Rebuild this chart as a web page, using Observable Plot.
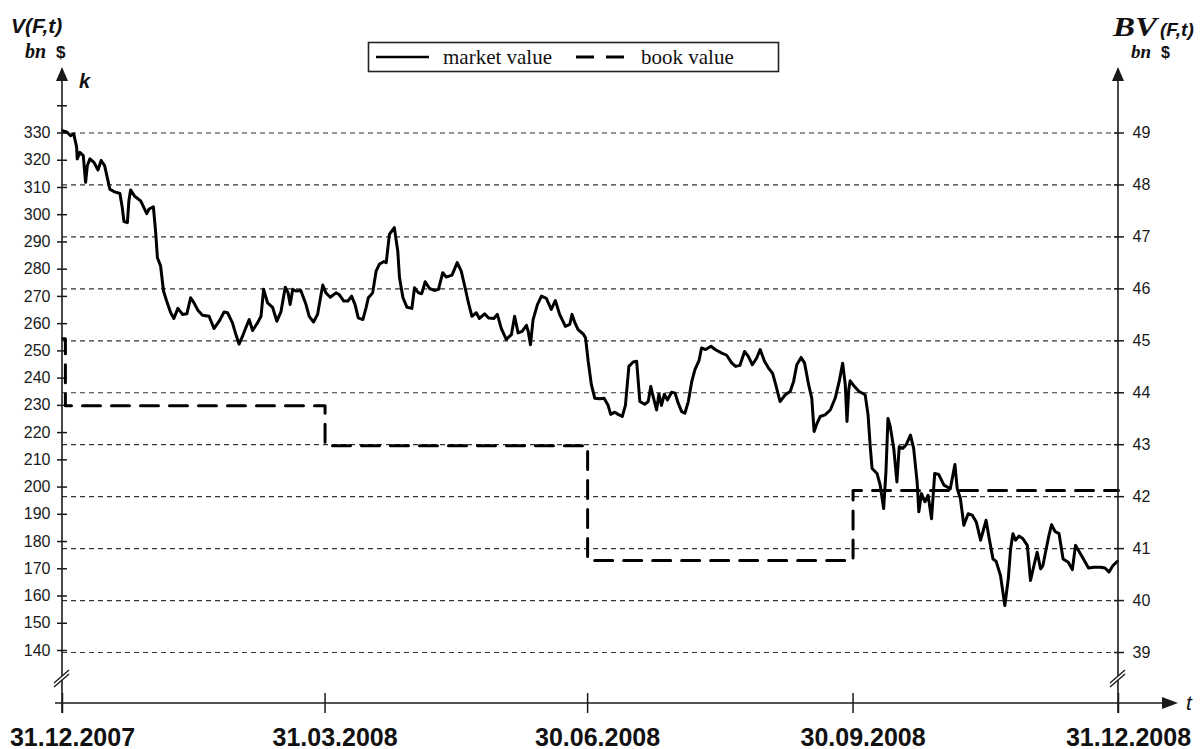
<!DOCTYPE html>
<html>
<head>
<meta charset="utf-8">
<script src="https://cdn.jsdelivr.net/npm/d3@7"></script>
<script src="https://cdn.jsdelivr.net/npm/@observablehq/plot@0.6"></script>
<style>
  html, body { margin: 0; padding: 0; background: #fff; }
  #chart svg { display: block; }
</style>
</head>
<body>
<div id="chart"></div>
<script>
// ---------- DATA ----------
// t = days since 31.12.2007
const marketDay = [0,1.6,2.8,3.9,4.9,5.1,6.0,7.2,8.0,8.6,9.5,10.9,12.3,13.4,14.6,15.5,16.4,17.8,19.9,20.7,21.3,22.5,23.0,23.6,25.0,27.1,29.2,30.0,31.5,32.3,32.9,34.0,35.0,36.1,37.5,38.6,40.0,41.6,43.1,44.4,45.6,47.0,48.5,50.8,52.5,54.3,56.0,57.2,58.9,60.1,61.2,62.4,63.5,64.7,65.9,67.6,68.8,69.7,71.1,72.8,74.3,75.7,77.2,78.2,78.9,79.8,80.9,82.6,84.4,85.5,87.0,88.4,90.2,91.3,92.8,94.8,95.9,97.5,98.9,100.2,101.4,102.5,104.1,105.2,106.0,107.5,108.7,109.8,111.4,
  112.2,113.3,115.0,116.2,116.8,118.0,119.4,121.1,122.0,123.4,124.5,125.7,127.2,128.9,130.3,131.8,133.0,135.0,136.8,138.2,139.6,140.7,141.9,143.4,144.5,146.3,147.7,149.5,150.7,152.1,153.8,155.6,156.7,157.9,159.3,160.8,161.4,162.2,163.1,164.6,166.0,167.7,169.4,170.8,172.3,174.3,175.8,176.6,177.5,178.7,180.5,181.3,182.2,183.3,184.5,186.2,187.7,189.1,190.0,191.4,192.6,194.0,195.1,196.3,197.8,199.0,200.1,201.8,203.0,203.9,204.7,205.9,206.7,207.6,208.6,209.7,211.1,212.3,213.4,214.6,215.7,216.9,218.1,219.2,220.6,221.5,222.9,224.8,226.2,228.5,230.2,232.0,233.3,234.8,236.4,237.7,239.1,240.6,241.8,243.3,244.7,246.1,247.2,248.7,
  250.5,252.2,253.4,254.5,256.0,257.2,258.6,259.7,260.5,261.5,262.6,264.3,266.1,267.8,269.2,270.4,271.3,271.9,272.5,273.0,274.5,276.1,278.2,279.2,280.0,280.6,282.3,283.4,284.6,285.4,286.1,286.9,288.1,289.2,290.0,291.2,292.4,293.9,295.0,296.2,296.8,297.7,298.9,300.0,301.2,302.3,303.7,305.5,307.7,309.3,310.1,311.2,312.4,313.9,315.3,316.7,318.2,319.3,320.1,321.3,322.5,323.6,325.1,326.6,327.8,328.6,329.4,330.3,331.5,332.9,334.4,335.5,336.7,337.8,339.0,339.8,340.7,341.9,342.8,344.0,345.4,346.8,348.6,350.0,351.1,352.5,354.1,355.6,357.5,359.8,361.3,362.7,364.1,365.6];

const marketValue = [330.9,330.3,329.0,329.7,324.8,320.5,322.9,321.7,311.9,318.0,320.5,319.2,316.4,319.9,318.0,313.7,309.4,308.5,307.8,302.7,297.5,297.1,305.1,309.1,306.8,305.1,300.4,302.1,302.9,293.4,284.2,281.2,272.0,268.3,264.0,261.9,265.6,263.4,263.6,269.5,267.6,264.8,263.1,262.7,258.2,260.9,264.3,264.0,260.3,256.0,252.5,255.4,258.4,261.5,257.5,260.3,262.7,272.6,267.6,266.0,260.9,264.3,273.4,271.3,267.0,272.6,272.0,272.2,267.0,262.7,260.6,263.4,274.2,271.3,269.7,271.3,270.7,268.3,268.3,270.1,267.0,262.1,261.5,265.8,269.5,271.3,279.3,281.8,282.8,
  282.4,292.8,295.3,286.7,276.9,269.5,266.0,265.6,273.2,271.3,271.0,275.4,272.9,272.2,272.6,278.7,277.1,277.8,282.4,279.3,272.9,267.6,262.7,264.0,261.9,263.6,262.1,261.9,263.4,258.2,254.2,256.0,262.7,256.6,257.2,259.4,257.2,252.3,261.5,267.0,270.1,269.3,265.2,268.5,263.4,259.0,259.7,263.4,260.6,257.8,256.2,254.7,246.2,237.6,232.6,232.4,232.6,230.0,226.7,227.5,226.7,225.9,230.0,244.3,245.9,246.2,231.4,230.4,231.4,236.9,233.3,228.3,234.1,230.0,234.1,232.0,234.8,234.5,230.8,227.7,227.1,231.4,238.8,243.1,246.4,251.1,250.5,251.7,250.5,249.2,248.4,245.5,244.3,244.7,249.8,248.0,244.9,247.4,250.5,246.2,243.7,241.8,237.6,231.4,
  233.9,235.1,238.8,244.9,247.6,245.5,237.6,232.6,220.4,223.4,225.9,226.5,228.3,232.6,238.8,245.5,237.6,224.1,235.7,239.0,236.9,235.1,233.9,226.5,214.2,206.8,205.0,200.7,192.1,205.6,225.2,222.2,214.2,201.9,214.8,214.2,215.5,219.1,214.2,201.9,190.9,197.6,194.6,197.0,188.4,205.0,204.6,200.7,199.4,208.3,199.4,195.8,186.0,190.2,189.7,187.2,180.5,184.7,187.8,180.5,173.6,172.7,167.5,156.5,166.3,177.3,182.9,180.5,182.0,181.0,178.6,165.7,171.2,176.1,170.0,171.2,176.1,182.3,186.2,183.7,182.9,173.6,172.4,169.7,178.6,176.1,173.1,170.3,170.6,170.6,170.3,168.8,171.2,172.7];

const bookDay   = [0, 1, 91, 182, 274, 366];
const bookValue = [45.04, 43.75, 42.98, 40.77, 42.12, 42.12];

const leftTicks  = [140,150,160,170,180,190,200,210,220,230,240,250,260,270,280,290,300,310,320,330,340];
const rightTicks = [39,40,41,42,43,44,45,46,47,48,49];
const dateTicks  = [0, 91, 182, 274, 366];
const dateLabels = ["31.12.2007","31.03.2008","30.06.2008","30.09.2008","31.12.2008"];

// ---------- LAYOUT ----------
const W = 1202, H = 749;
const ML = 62, MR = 84, MT = 80, MB = 46;
const RATIO = 19.074;                       // left units per right-axis unit
const toLeft = b => 330 - (49 - b) * RATIO; // right axis (BV) -> left scale
const toRight = v => Math.round(49 - (330 - v) / RATIO);

const market = marketDay.map((d, i) => ({d, v: marketValue[i]}));
const book = bookDay.map((d, i) => ({d, v: bookValue[i]}));

const sans = "'Liberation Sans', Arial, sans-serif";
const serif = "'Liberation Serif', 'Times New Roman', serif";
const ink = "#1a1a1a";

const chart = Plot.plot({
  width: W, height: H,
  marginLeft: ML, marginRight: MR, marginTop: MT, marginBottom: MB,
  style: {fontFamily: sans, fontSize: "16px", color: ink, background: "#fff", overflow: "visible"},
  x: {type: "linear", domain: [0, 366], range: [ML, W - MR]},
  y: {domain: [140, 330], range: [650, 132.5]},
  marks: [
    // dashed horizontal grid at the right-axis ticks
    Plot.ruleY(rightTicks, {y: toLeft, x1: 0, x2: 366, stroke: "#333", strokeWidth: 1.2, strokeDasharray: "5,4"}),
    // left axis ticks + labels
    Plot.axisY(leftTicks, {anchor: "left", tickSize: 10, dx: 5, tickPadding: 7, strokeWidth: 1.5,
      tickFormat: d => d === 340 ? "" : String(d), label: null, fontSize: 16}),
    // right axis ticks + labels
    Plot.axisY(rightTicks.map(toLeft), {anchor: "right", tickSize: 10, dx: -5, tickPadding: 9, strokeWidth: 1.5,
      tickFormat: d => String(toRight(d)), label: null, fontSize: 16}),
    // x ticks (crossing the axis)
    Plot.axisX(dateTicks, {anchor: "bottom", tickSize: 20, dy: -10, fill: "none", strokeWidth: 1.5, label: null}),
    // x date labels
    Plot.text(dateTicks, {x: d => d, frameAnchor: "bottom", lineAnchor: "top", dy: 25, dx: 10,
      text: (d, i) => dateLabels[i], fontSize: 25, fontWeight: "bold", fill: "#111"}),
    // book value (right axis), dashed step line
    Plot.line(book, {x: "d", y: d => toLeft(d.v), curve: "step-after", stroke: "#000",
      strokeWidth: 3, strokeDasharray: "18,11"}),
    // market value (left axis)
    Plot.line(market, {x: "d", y: "v", stroke: "#000", strokeWidth: 3, strokeLinejoin: "round"})
  ]
});

document.getElementById("chart").append(chart);

// ---------- axis lines, arrows, break marks, titles, legend ----------
const svg = d3.select(chart);
const sx = v => chart.scale("x").apply(v);
const xl = sx(0), xr = sx(366), yb = H - MB;
const g = svg.append("g").attr("stroke", ink).attr("fill", ink);

// vertical axes
[xl, xr].forEach(x => {
  g.append("line").attr("x1", x).attr("x2", x).attr("y1", 78).attr("y2", yb + 10).attr("stroke-width", 1.6);
  g.append("path").attr("d", `M${x},67 L${x - 6},81 L${x + 6},81 Z`).attr("stroke", "none");
  // break mark
  g.append("path").attr("d", `M${x - 8},${683} L${x + 7},${670} L${x + 7},${674} L${x - 8},${687} Z`)
    .attr("fill", "#fff").attr("stroke", "none");
  g.append("line").attr("x1", x - 8).attr("y1", 683).attr("x2", x + 7).attr("y2", 670).attr("stroke-width", 1.3);
  g.append("line").attr("x1", x - 8).attr("y1", 687).attr("x2", x + 7).attr("y2", 674).attr("stroke-width", 1.3);
});
// horizontal axis
g.append("line").attr("x1", 55).attr("x2", 1166).attr("y1", yb).attr("y2", yb).attr("stroke-width", 1.6);
g.append("path").attr("d", `M1178,${yb} L1162,${yb - 6} L1162,${yb + 6} Z`).attr("stroke", "none");

const t = svg.append("g").attr("fill", "#111").attr("stroke", "none").attr("text-anchor", "start");
// left title
t.append("text").attr("x", 11).attr("y", 33).attr("font-family", sans).attr("font-weight", "bold")
  .attr("font-style", "italic").attr("font-size", 21).text("V(F,t)");
t.append("text").attr("x", 25).attr("y", 58).attr("font-family", serif).attr("font-weight", "bold")
  .attr("font-style", "italic").attr("font-size", 20).text("bn");
t.append("text").attr("x", 56).attr("y", 58).attr("font-family", sans).attr("font-weight", "bold")
  .attr("font-size", 17).text("$");
t.append("text").attr("x", 79).attr("y", 88).attr("font-family", sans).attr("font-weight", "bold")
  .attr("font-style", "italic").attr("font-size", 20).text("k");
// right title
t.append("text").attr("x", 1113).attr("y", 36).attr("font-family", serif).attr("font-weight", "bold")
  .attr("font-style", "italic").attr("font-size", 27).attr("textLength", 44).attr("lengthAdjust", "spacingAndGlyphs").text("BV");
t.append("text").attr("x", 1160).attr("y", 36).attr("font-family", sans).attr("font-weight", "bold")
  .attr("font-style", "italic").attr("font-size", 19).text("(F,t)");
t.append("text").attr("x", 1131).attr("y", 58).attr("font-family", serif).attr("font-weight", "bold")
  .attr("font-style", "italic").attr("font-size", 19).text("bn");
t.append("text").attr("x", 1161).attr("y", 58).attr("font-family", sans).attr("font-weight", "bold")
  .attr("font-size", 16).text("$");
// x axis variable
t.append("text").attr("x", 1186).attr("y", 710).attr("font-family", sans)
  .attr("font-style", "italic").attr("font-size", 21).text("t");

// legend
const lg = svg.append("g").attr("text-anchor", "start");
lg.append("rect").attr("x", 368.5).attr("y", 42.5).attr("width", 410).attr("height", 29)
  .attr("fill", "#fff").attr("stroke", "#222").attr("stroke-width", 1.6);
lg.append("line").attr("x1", 376).attr("x2", 429).attr("y1", 57).attr("y2", 57)
  .attr("stroke", "#000").attr("stroke-width", 2.6);
lg.append("text").attr("x", 443).attr("y", 64).attr("font-family", serif).attr("font-size", 21)
  .attr("fill", "#111").text("market value");
lg.append("line").attr("x1", 576).attr("x2", 624).attr("y1", 57).attr("y2", 57)
  .attr("stroke", "#000").attr("stroke-width", 3).attr("stroke-dasharray", "18,12");
lg.append("text").attr("x", 641).attr("y", 64).attr("font-family", serif).attr("font-size", 21)
  .attr("fill", "#111").text("book value");
</script>
</body>
</html>
